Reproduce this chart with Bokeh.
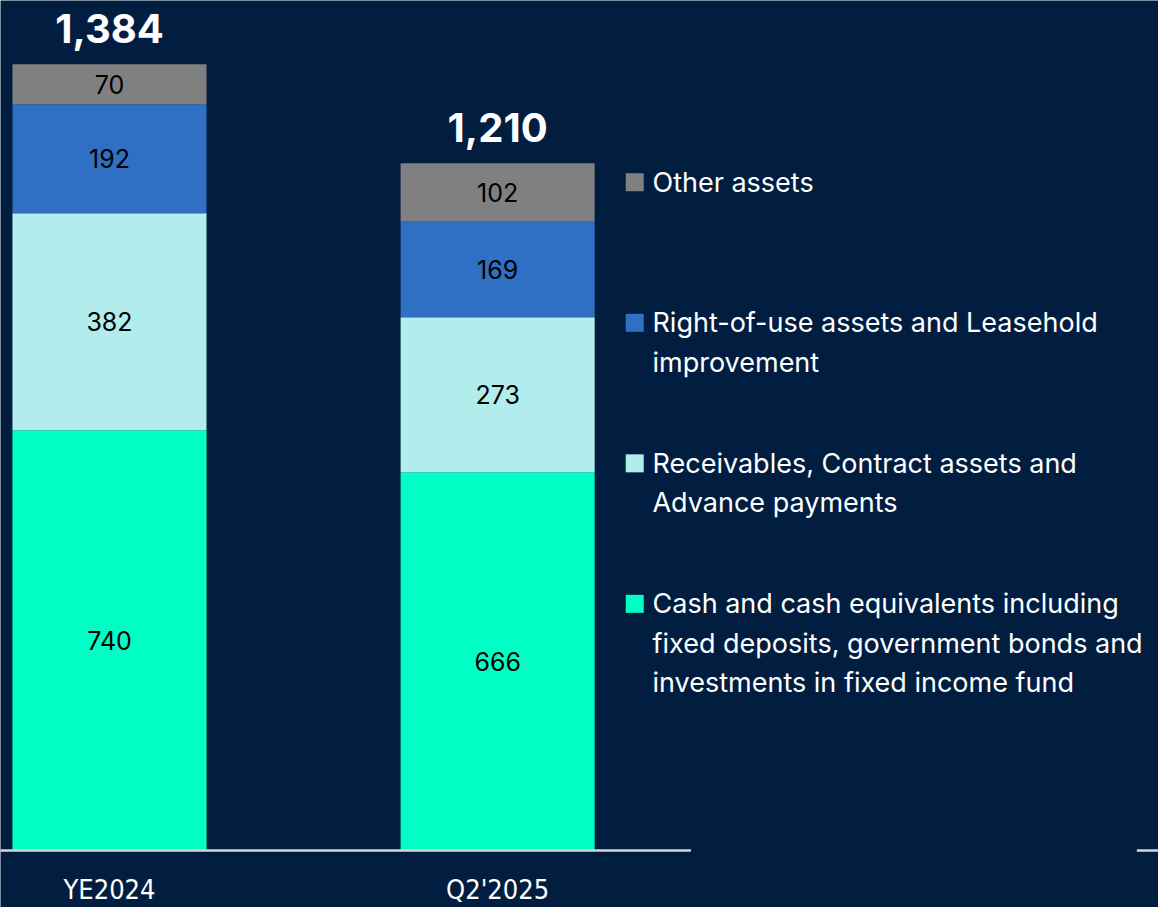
from bokeh.plotting import figure
from bokeh.models import Range1d, ColumnDataSource
from bokeh.core.properties import value
from bokeh.embed import file_html
from bokeh.resources import INLINE

# ---- data ----
periods = ["YE2024", "Q2'2025"]
cash = [740, 666]
receivables = [382, 273]
rou = [192, 169]
other = [70, 102]
totals = ["1,384", "1,210"]
series_names = ["cash", "receivables", "rou", "other"]
series_colors = ["#00FFC5", "#B2ECEC", "#3070C4", "#808080"]
legend_labels = [
    ["Other assets"],
    ["Right-of-use assets and Leasehold", "improvement"],
    ["Receivables, Contract assets and", "Advance payments"],
    ["Cash and cash equivalents including", "fixed deposits, government bonds and",
     "investments in fixed income fund"],
]
legend_colors = ["#808080", "#3070C4", "#B2ECEC", "#00FFC5"]

BG = "#011E41"
W, H = 1158, 907
MAIN_FONT = "Inter"
COND_FONT = "'DejaVu Sans Condensed', 'Roboto', sans-serif"

# layout helpers: reference-pixel -> data coordinates (the whole is scaled to W x H)
REF_W, REF_H = 1174, 923
PPX = 393.5
PPY = 800 / 1384
def X(ix):
    return (ix - 110.5) / PPX
def Y(iy):
    return (865 - iy) / PPY

p = figure(width=W, height=H, output_backend="svg", toolbar_location=None,
           x_range=Range1d(X(0), X(REF_W)),
           y_range=Range1d(Y(REF_H), Y(0)),
           min_border=0, outline_line_color=None,
           background_fill_color=BG, border_fill_color=BG)
p.axis.visible = False
p.grid.visible = False

xs = [0, 1]
src = ColumnDataSource(dict(x=xs, cash=cash, receivables=receivables, rou=rou, other=other))
p.vbar_stack(series_names, x="x", width=0.5, color=series_colors, source=src,
             line_color=None)

# segment labels
lx, ly, lt = [], [], []
for i in range(2):
    base = 0
    for s in [cash, receivables, rou, other]:
        lx.append(xs[i])
        ly.append(base + s[i] / 2)
        lt.append(str(s[i]))
        base += s[i]
p.text(x=lx, y=ly, text=lt, text_align="center", text_baseline="middle",
       text_color="black", text_font=value(MAIN_FONT), text_font_size="25px")

# totals
tot_y = [cash[i] + receivables[i] + rou[i] + other[i] for i in range(2)]
p.text(x=xs, y=tot_y, text=totals, y_offset=-36, text_align="center",
       text_baseline="middle", text_color="white", text_font=value(MAIN_FONT),
       text_font_style="bold", text_font_size="40px")

# baseline
p.segment(x0=[X(-5), X(1152)], y0=[0, 0], x1=[X(700), X(1180)], y1=[0, 0],
          line_color="#D6D6D6", line_width=2.5)

# category labels
p.text(x=xs, y=[Y(905), Y(905)], text=periods, text_align="center",
       text_baseline="middle", text_color="white",
       text_font=value(COND_FONT), text_font_size="27px")

# legend
line_centers = [[185], [328, 368], [471, 511], [614, 654, 694]]
for labels, color, cys in zip(legend_labels, legend_colors, line_centers):
    p.rect(x=[X(643)], y=[Y(cys[0])], width=18, height=18,
           width_units="screen", height_units="screen",
           fill_color=color, line_color=None)
    p.text(x=[X(661)] * len(labels), y=[Y(c) for c in cys], text=labels,
           text_align="left", text_baseline="middle", text_color="white",
           text_font=value(MAIN_FONT), text_font_size="27px")

open("out.html", "w").write(file_html(p, INLINE))
